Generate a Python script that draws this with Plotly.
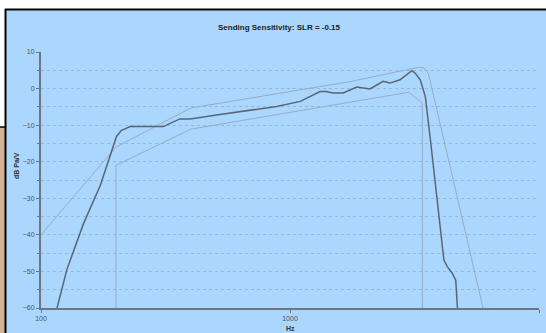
import plotly.graph_objects as go

# Measured sending sensitivity (Hz, dB Pa/V)
meas_f = [116, 127, 148, 173, 201, 210, 228, 310, 361, 397, 507, 690, 884, 1100, 1321, 1398, 1490, 1635, 1741,
          1855, 2094, 2366, 2520, 2766, 3087, 3184, 3336, 3495, 3664, 3897, 4150, 4282, 4483, 4630, 4705]
meas_db = [-60, -49.5, -37, -26.5, -13.1, -11.5, -10.4, -10.4, -8.3, -8.3, -7.2, -6.0, -4.9, -3.5, -0.8, -0.8, -1.2, -1.2, -0.3,
           0.4, -0.1, 2.0, 1.5, 2.4, 4.9, 4.2, 2.4, -2.2, -14.0, -30.5, -46.9, -48.7, -50.5, -52.4, -60]

# Upper mask
up_f = [100, 200, 400, 1741, 3280, 3450, 3600, 5960]
up_db = [-40, -16, -5.3, 1.9, 5.8, 5.7, 4.0, -60]

# Lower mask
lo_f = [200, 200, 400, 1741, 3000, 3400, 3400]
lo_db = [-60, -21, -11.1, -3.8, -1.0, -4.0, -60]

x_ticks = [100, 1000, 10000]
x_labels = ["100", "1000", "10000"]
y_ticks = [10, 0, -10, -20, -30, -40, -50, -60]

BLUE = "#ABD6FD"
W, H = 546, 333
ML, MR, MT, MB = 41, 7, 52, 25
PW, PH = W - ML - MR, H - MT - MB


def px(x):
    return (x - ML) / PW


def py(y):
    return (H - MB - y) / PH


fig = go.Figure()
fig.add_trace(go.Scatter(x=up_f, y=up_db, mode="lines", line=dict(color="#97ADC1", width=1), showlegend=False))
fig.add_trace(go.Scatter(x=lo_f, y=lo_db, mode="lines", line=dict(color="#97ADC1", width=1), showlegend=False))
fig.add_trace(go.Scatter(x=meas_f, y=meas_db, mode="lines", line=dict(color="#5A6674", width=1.5), showlegend=False))

shapes = [
    dict(type="rect", xref="paper", yref="paper", x0=px(-2), x1=px(W + 2), y0=py(-2), y1=py(9),
         fillcolor="white", line=dict(width=0), layer="below"),
    dict(type="rect", xref="paper", yref="paper", x0=px(-2), x1=px(5), y0=py(-2), y1=py(127),
         fillcolor="white", line=dict(width=0), layer="below"),
    dict(type="rect", xref="paper", yref="paper", x0=px(-2), x1=px(5), y0=py(127), y1=py(H + 2),
         fillcolor="#D3AF93", line=dict(width=0), layer="below"),
    dict(type="line", xref="paper", yref="paper", x0=px(5), x1=px(W + 2), y0=py(9.5), y1=py(9.5),
         line=dict(color="black", width=2)),
    dict(type="line", xref="paper", yref="paper", x0=px(5.5), x1=px(5.5), y0=py(9), y1=py(H + 2),
         line=dict(color="black", width=2)),
    dict(type="line", xref="paper", yref="paper", x0=px(-2), x1=px(5), y0=py(127), y1=py(127),
         line=dict(color="black", width=1.5)),
]

annotations = [
    dict(text="<b>dB Pa/V</b>", xref="paper", yref="paper", x=px(16), y=py(166), textangle=-90,
         xanchor="center", yanchor="middle",
         showarrow=False, font=dict(size=7, color="#333333", family="Liberation Sans")),
    dict(text="<b>Hz</b>", xref="paper", yref="paper", x=px(290), y=py(328.5),
         xanchor="center", yanchor="middle", showarrow=False,
         font=dict(size=7, color="#333333", family="Liberation Sans")),
]

fig.update_layout(
    width=W, height=H,
    margin=dict(l=ML, r=MR, t=MT, b=MB),
    paper_bgcolor=BLUE, plot_bgcolor=BLUE,
    title=dict(text="<b>Sending Sensitivity: SLR = -0.15</b>", x=279 / W, xanchor="center",
               y=1 - 27 / H, yanchor="middle", xref="container", yref="container",
               font=dict(size=8, color="#222222", family="Liberation Sans")),
    shapes=shapes, annotations=annotations,
    font=dict(family="Liberation Sans", size=7, color="#555555"),
)
fig.update_xaxes(type="log", range=[2, 4], tickvals=x_ticks, ticktext=x_labels, showgrid=False,
                 showline=True, linecolor="#6A7886", linewidth=2, ticks="outside", ticklen=3,
                 tickcolor="#6A7886", zeroline=False, tickfont=dict(size=7, color="#555555"))
fig.update_yaxes(range=[-60, 10], tickvals=y_ticks, showgrid=True, gridcolor="#93B8DA", griddash="3px,3px",
                 gridwidth=1, showline=True, linecolor="#6A7886", linewidth=2, ticks="outside", ticklen=3,
                 tickcolor="#6A7886", zeroline=False, tickfont=dict(size=7, color="#555555"),
                 minor=dict(dtick=5, tick0=0, showgrid=True, gridcolor="#93B8DA", griddash="3px,3px",
                            ticks="outside", ticklen=2, tickcolor="#6A7886"))

fig.write_html("out.html", config={"displayModeBar": False},
               post_script="document.body.style.margin='0px';document.body.style.overflow='hidden';")
